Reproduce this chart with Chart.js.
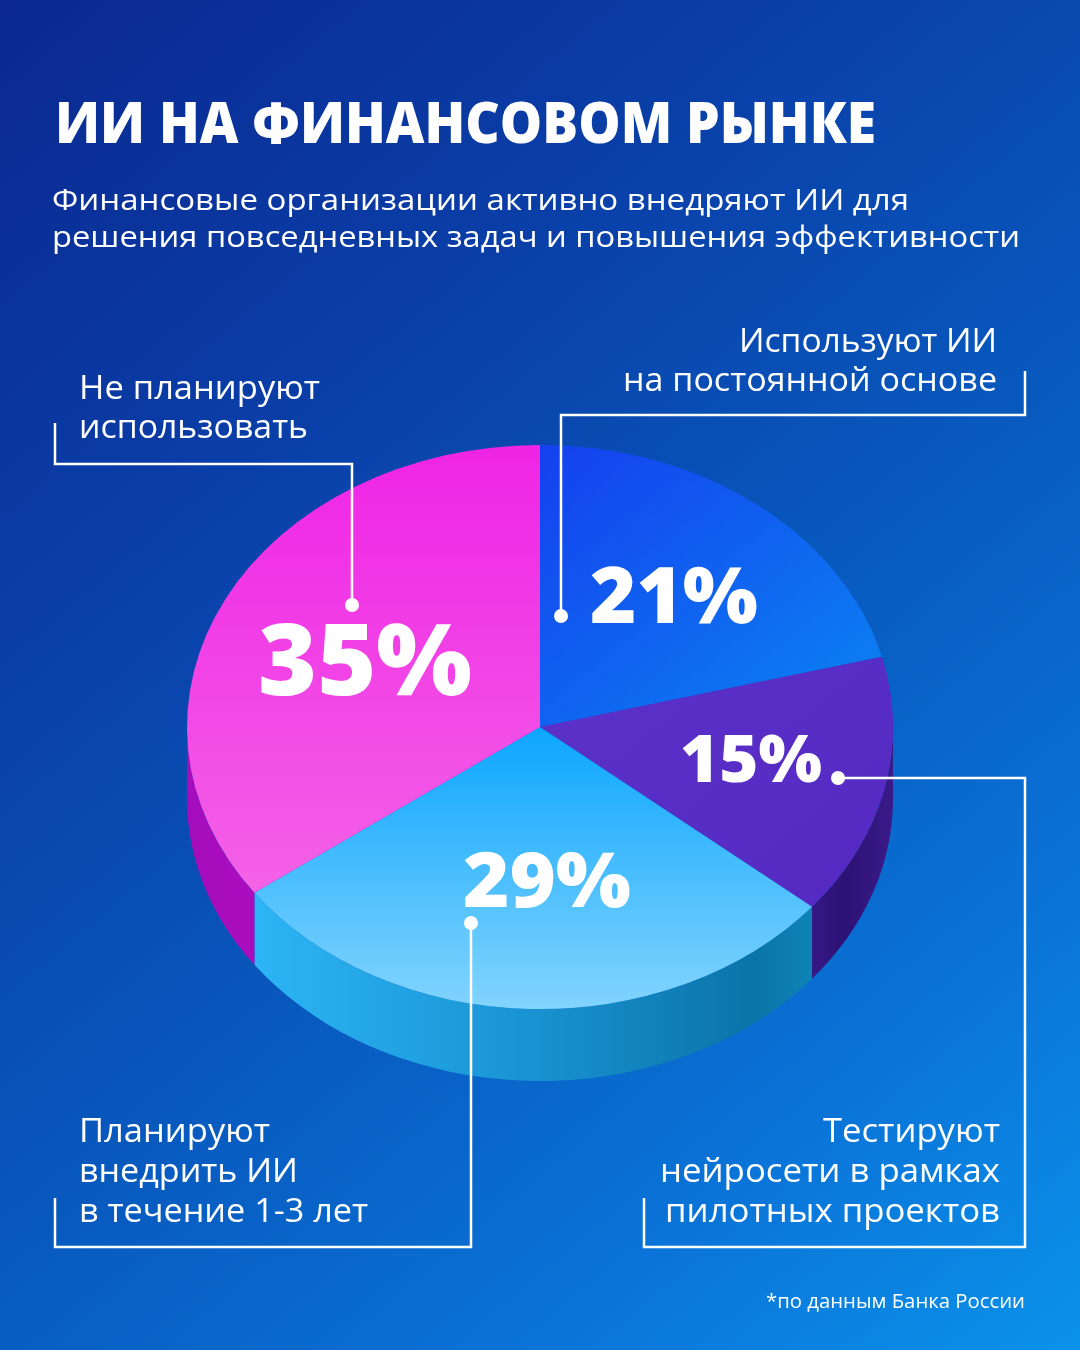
<!DOCTYPE html>
<html lang="ru">
<head>
<meta charset="utf-8">
<title>ИИ на финансовом рынке</title>
<script src="https://cdn.jsdelivr.net/npm/chart.js@4.4.1/dist/chart.umd.min.js"></script>
<style>
  html, body { margin: 0; padding: 0; }
  body {
    width: 1080px; height: 1350px; overflow: hidden; position: relative;
    background: linear-gradient(140deg, #0a2890 0%, #0a3fa8 30%, #0858bd 55%, #0a74d8 80%, #0a92ea 100%);
    font-family: "Open Sans", "Noto Sans", sans-serif;
  }
  #pie { position: absolute; left: 0; top: 280px; }
  #overlay { position: absolute; left: 0; top: 0; }
  .t { fill: #fff; }
</style>
</head>
<body>
<canvas id="pie" width="1080" height="900"></canvas>
<svg id="overlay" width="1080" height="1350"></svg>
<script>
// ---- data ----
const categories = [
  "Используют ИИ на постоянной основе",
  "Тестируют нейросети в рамках пилотных проектов",
  "Планируют внедрить ИИ в течение 1-3 лет",
  "Не планируют использовать"
];
const shares = [21, 15, 29, 35];
const pctLabels = ["21%", "15%", "29%", "35%"];

// texts
const titleText = "ИИ НА ФИНАНСОВОМ РЫНКЕ";
const subtitleLines = [
  "Финансовые организации активно внедряют ИИ для",
  "решения повседневных задач и повышения эффективности"
];
const labelLines = [
  ["Используют ИИ", "на постоянной основе"],
  ["Тестируют", "нейросети в рамках", "пилотных проектов"],
  ["Планируют", "внедрить ИИ", "в течение 1-3 лет"],
  ["Не планируют", "использовать"]
];
const sourceNote = "*по данным Банка России";

// look
const TILT = 0.799;   // vertical squash of the top face
const DEPTH = 72;     // px height of the side wall

/* ==========================
   GRADIENTS
========================== */
function topFill(context) {
  const i = context.dataIndex;
  const chart = context.chart;
  const area = chart.chartArea;
  const fallback = ["#1a5cf0", "#5630c4", "#3cbcfc", "#f04ae6"][i];
  if (!area) return fallback;
  const ctx = chart.ctx;
  const cx = (area.left + area.right) / 2;
  const cy = (area.top + area.bottom) / 2;
  const r = (area.right - area.left) / 2;
  let g;
  if (i === 0) {
    g = ctx.createLinearGradient(cx, cy - r, cx + r, cy);
    g.addColorStop(0, "#1540ee");
    g.addColorStop(1, "#0a86f2");
  } else if (i === 1) {
    g = ctx.createLinearGradient(cx, cy, cx + r, cy + r);
    g.addColorStop(0, "#5a30c8");
    g.addColorStop(1, "#5228c0");
  } else if (i === 2) {
    g = ctx.createLinearGradient(cx, cy, cx, cy + r);
    g.addColorStop(0, "#0ca6fe");
    g.addColorStop(1, "#82d4fd");
  } else {
    g = ctx.createLinearGradient(cx, cy - r, cx, cy + r);
    g.addColorStop(0, "#ef24e6");
    g.addColorStop(1, "#f572e6");
  }
  return g;
}

function sideFill(ctx, i, cx, r) {
  const g = ctx.createLinearGradient(cx - r, 0, cx + r, 0);
  if (i === 3) {
    g.addColorStop(0, "#a40cbc");
    g.addColorStop(0.3, "#b810c4");
    g.addColorStop(1, "#c818c8");
  } else if (i === 2) {
    g.addColorStop(0.1, "#2cb4f4");
    g.addColorStop(0.45, "#1a96d6");
    g.addColorStop(0.8, "#0a74a8");
    g.addColorStop(0.9, "#0f86b8");
  } else if (i === 1) {
    g.addColorStop(0.8, "#4a24a6");
    g.addColorStop(0.93, "#2c1274");
    g.addColorStop(1, "#3a1a8a");
  } else {
    g.addColorStop(0, "#0a50c8");
    g.addColorStop(1, "#0a50c8");
  }
  return g;
}

/* ==========================
   3D PLUGIN (tilt + side wall)
========================== */
const extrude = {
  id: "extrude",
  beforeDatasetsDraw(chart) {
    const ctx = chart.ctx;
    const arcs = chart.getDatasetMeta(0).data;
    if (!arcs.length) return;
    const cx = arcs[0].x, cy = arcs[0].y, r = arcs[0].outerRadius;
    ctx.save();
    ctx.translate(0, cy);
    ctx.scale(1, TILT);
    ctx.translate(0, -cy);
    const d = DEPTH / TILT;
    arcs.forEach((a, i) => {
      const s = Math.max(a.startAngle, 0);
      const e = Math.min(a.endAngle, Math.PI);
      if (e <= s) return;
      ctx.beginPath();
      ctx.arc(cx, cy, r, s, e);
      ctx.arc(cx, cy + d, r, e, s, true);
      ctx.closePath();
      ctx.fillStyle = sideFill(ctx, i, cx, r);
      ctx.fill();
    });
  },
  afterDatasetsDraw(chart) {
    chart.ctx.restore();
  }
};

new Chart(document.getElementById("pie").getContext("2d"), {
  type: "pie",
  data: {
    labels: categories,
    datasets: [{
      data: shares,
      backgroundColor: topFill,
      borderWidth: 0
    }]
  },
  options: {
    responsive: false,
    animation: false,
    devicePixelRatio: 1,
    layout: { padding: { top: 94, bottom: 100, left: 187, right: 187 } },
    plugins: { legend: { display: false }, tooltip: { enabled: false } }
  },
  plugins: [extrude]
});

/* ==========================
   TEXT + LEADER LINES
========================== */
const svg = document.getElementById("overlay");
const NS = "http://www.w3.org/2000/svg";

function addText(str, x, y, opts) {
  const t = document.createElementNS(NS, "text");
  t.setAttribute("x", x);
  t.setAttribute("y", y);
  t.setAttribute("class", "t");
  t.setAttribute("font-size", opts.size);
  t.setAttribute("font-weight", opts.weight || 400);
  t.setAttribute("text-anchor", opts.anchor || "start");
  if (opts.width) {
    t.setAttribute("textLength", opts.width);
    t.setAttribute("lengthAdjust", "spacingAndGlyphs");
  }
  t.textContent = str;
  svg.appendChild(t);
}

function addPath(d) {
  const p = document.createElementNS(NS, "path");
  p.setAttribute("d", d);
  p.setAttribute("fill", "none");
  p.setAttribute("stroke", "#fff");
  p.setAttribute("stroke-width", "2.5");
  svg.appendChild(p);
}

function addDot(x, y) {
  const c = document.createElementNS(NS, "circle");
  c.setAttribute("cx", x);
  c.setAttribute("cy", y);
  c.setAttribute("r", 7);
  c.setAttribute("fill", "#fff");
  svg.appendChild(c);
}

// header
addText(titleText, 55, 143, { size: 57, weight: 800, width: 821 });
addText(subtitleLines[0], 52, 210, { size: 30, width: 857 });
addText(subtitleLines[1], 52, 247, { size: 30, width: 968 });

// leader lines
addPath("M561 616 V415 H1025 V371");
addPath("M352 605 V464 H55 V423");
addPath("M838 778 H1025 V1247 H644 V1198");
addPath("M471 923 V1247 H55 V1198");
addDot(561, 616);
addDot(352, 605);
addDot(838, 778);
addDot(471, 923);

// percentages
addText(pctLabels[0], 674, 623, { size: 78, weight: 800, anchor: "middle", width: 168 });
addText(pctLabels[1], 751, 782, { size: 66, weight: 800, anchor: "middle", width: 142 });
addText(pctLabels[2], 547, 907, { size: 76, weight: 800, anchor: "middle", width: 168 });
addText(pctLabels[3], 365, 695, { size: 100, weight: 800, anchor: "middle", width: 214 });

// category labels
addText(labelLines[0][0], 997, 352, { size: 33, anchor: "end", width: 258 });
addText(labelLines[0][1], 997, 391, { size: 33, anchor: "end", width: 374 });
addText(labelLines[3][0], 79, 399, { size: 33, width: 241 });
addText(labelLines[3][1], 79, 438, { size: 33, width: 229 });
addText(labelLines[2][0], 79, 1142, { size: 33, width: 191 });
addText(labelLines[2][1], 79, 1182, { size: 33, width: 219 });
addText(labelLines[2][2], 79, 1222, { size: 33, width: 289 });
addText(labelLines[1][0], 1000, 1142, { size: 33, anchor: "end", width: 177 });
addText(labelLines[1][1], 1000, 1182, { size: 33, anchor: "end", width: 340 });
addText(labelLines[1][2], 1000, 1222, { size: 33, anchor: "end", width: 335 });

// source
addText(sourceNote, 1025, 1308, { size: 20, anchor: "end", width: 259 });
</script>
</body>
</html>
